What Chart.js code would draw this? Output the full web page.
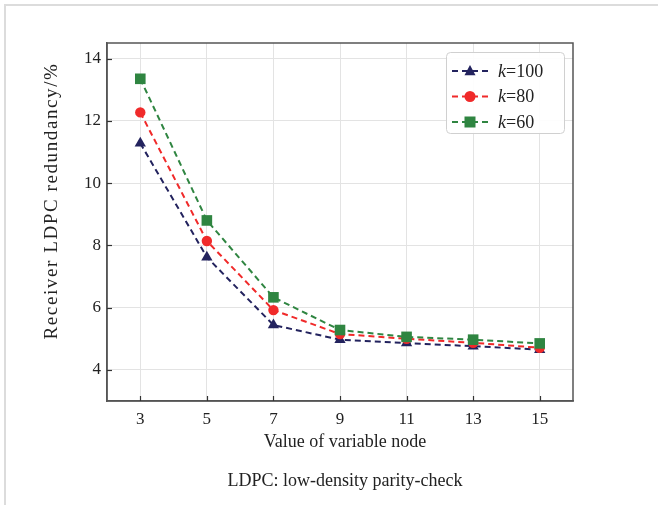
<!DOCTYPE html>
<html>
<head>
<meta charset="utf-8">
<script src="https://cdn.jsdelivr.net/npm/chart.js@4.4.0/dist/chart.umd.min.js"></script>
<style>
    html, body { margin: 0; padding: 0; background: #fff; }
    #wrap { width: 658px; height: 505px; position: relative; }
</style>
</head>
<body>
<div id="wrap"><canvas id="ldpcChart" width="658" height="505"></canvas></div>
<script>
// ===================================
// LDPC redundancy vs variable node value
// ===================================

const nodeValues = [3, 5, 7, 9, 11, 13, 15];
const yTickValues = [4, 6, 8, 10, 12, 14];

const k100 = [11.28, 7.62, 5.44, 4.97, 4.86, 4.76, 4.65];
const k80 = [12.27, 8.14, 5.92, 5.15, 5.00, 4.87, 4.71];
const k60 = [13.35, 8.80, 6.33, 5.28, 5.06, 4.97, 4.85];

const seriesLabels = ['100', '80', '60'];
const seriesColors = ['#23235e', '#f02a2a', '#2f8541'];
const seriesMarkers = ['triangle', 'circle', 'rect'];
const markerRadius = [6.5, 5.2, 7.5];

const SERIF = '"Liberation Serif", "DejaVu Serif", serif';

function toPoints(values) {
    return values.map((v, i) => ({ x: nodeValues[i], y: v }));
}

// Frame, inward ticks, axis titles, caption, legend box
const decorPlugin = {
    id: 'decor',
    beforeDraw(chart) {
        const ctx = chart.ctx;
        ctx.save();
        ctx.strokeStyle = '#dcdcdc';
        ctx.lineWidth = 2;
        ctx.beginPath();
        ctx.moveTo(5, 505);
        ctx.lineTo(5, 5);
        ctx.lineTo(658, 5);
        ctx.stroke();
        ctx.restore();
    },
    afterDraw(chart) {
        const ctx = chart.ctx;
        const area = chart.chartArea;
        const xs = chart.scales.x;
        const ys = chart.scales.y;
        ctx.save();

        // inward ticks
        ctx.strokeStyle = '#333';
        ctx.lineWidth = 1.2;
        nodeValues.forEach(v => {
            const px = Math.round(xs.getPixelForValue(v)) + 0.5;
            ctx.beginPath();
            ctx.moveTo(px, area.bottom);
            ctx.lineTo(px, area.bottom - 5);
            ctx.stroke();
        });
        yTickValues.forEach(v => {
            const py = Math.round(ys.getPixelForValue(v)) + 0.5;
            ctx.beginPath();
            ctx.moveTo(area.left, py);
            ctx.lineTo(area.left + 5, py);
            ctx.stroke();
        });

        // axis titles and caption
        ctx.fillStyle = '#222';
        ctx.font = '18px ' + SERIF;
        ctx.textAlign = 'center';
        ctx.textBaseline = 'middle';
        ctx.fillText('Value of variable node', 345, 442);
        ctx.fillText('LDPC: low-density parity-check', 345, 481);
        ctx.save();
        ctx.translate(52, 201);
        ctx.rotate(-Math.PI / 2);
        ctx.font = '19px ' + SERIF;
        ctx.letterSpacing = '1.6px';
        ctx.fillText('Receiver LDPC redundancy/%', 0, 0);
        ctx.restore();

        // legend box
        const bx = 446, by = 52, bw = 118, bh = 81;
        ctx.fillStyle = 'rgba(255,255,255,0.9)';
        ctx.strokeStyle = '#d0d0d0';
        ctx.lineWidth = 1;
        ctx.beginPath();
        ctx.roundRect(bx + 0.5, by + 0.5, bw, bh, 4);
        ctx.fill();
        ctx.stroke();

        seriesLabels.forEach((lab, i) => {
            const rowY = 71 + i * 25.5;
            const color = seriesColors[i];
            ctx.strokeStyle = color;
            ctx.lineWidth = 1.8;
            ctx.setLineDash([6, 4]);
            ctx.beginPath();
            ctx.moveTo(452, rowY);
            ctx.lineTo(489, rowY);
            ctx.stroke();
            ctx.setLineDash([]);
            ctx.fillStyle = color;
            drawMarker(ctx, seriesMarkers[i], 470, rowY, 5.5);

            ctx.fillStyle = '#222';
            ctx.textAlign = 'left';
            ctx.font = 'italic 18px ' + SERIF;
            ctx.fillText('k', 498, rowY + 1);
            const kw = ctx.measureText('k').width;
            ctx.font = '18px ' + SERIF;
            ctx.fillText('=' + lab, 498 + kw, rowY + 1);
        });
        ctx.restore();
    }
};

function drawMarker(ctx, type, x, y, r) {
    ctx.beginPath();
    if (type === 'triangle') {
        ctx.moveTo(x, y - r * 1.1);
        ctx.lineTo(x + r, y + r * 0.75);
        ctx.lineTo(x - r, y + r * 0.75);
        ctx.closePath();
    } else if (type === 'circle') {
        ctx.arc(x, y, r, 0, Math.PI * 2);
    } else {
        ctx.rect(x - r, y - r, r * 2, r * 2);
    }
    ctx.fill();
}

const datasets = [k100, k80, k60].map((vals, i) => ({
    label: 'k=' + seriesLabels[i],
    data: toPoints(vals),
    borderColor: seriesColors[i],
    backgroundColor: seriesColors[i],
    borderWidth: 2,
    borderDash: [6, 4],
    pointStyle: seriesMarkers[i],
    pointRadius: markerRadius[i],
    pointBorderWidth: 0,
    tension: 0
}));

new Chart(document.getElementById('ldpcChart'), {
    type: 'line',
    data: { datasets: datasets.reverse() },
    options: {
        responsive: false,
        animation: false,
        layout: { padding: { left: 0, top: 43, right: 85, bottom: 0 } },
        plugins: {
            legend: { display: false },
            tooltip: { enabled: false }
        },
        scales: {
            x: {
                type: 'linear',
                min: 2,
                max: 16,
                afterBuildTicks: scale => { scale.ticks = nodeValues.map(v => ({ value: v })); },
                afterFit: scale => { scale.height = 104; },
                grid: { color: '#e3e3e3', lineWidth: 1, drawTicks: false },
                border: { color: '#555', width: 1.5 },
                ticks: {
                    padding: 8,
                    color: '#222',
                    font: { family: SERIF, size: 17 },
                    maxRotation: 0
                }
            },
            y: {
                min: 3,
                max: 14.5,
                afterBuildTicks: scale => { scale.ticks = yTickValues.map(v => ({ value: v })); },
                afterFit: scale => { scale.width = 107; },
                grid: { color: '#e3e3e3', lineWidth: 1, drawTicks: false },
                border: { color: '#555', width: 1.5 },
                ticks: {
                    padding: 6,
                    color: '#222',
                    font: { family: SERIF, size: 17 }
                }
            }
        }
    },
    plugins: [decorPlugin, {
        id: 'boxBorder',
        afterDatasetsDraw(chart) {
            const a = chart.chartArea;
            const ctx = chart.ctx;
            ctx.save();
            ctx.strokeStyle = '#555';
            ctx.lineWidth = 1.5;
            ctx.strokeRect(a.left, a.top, a.right - a.left, a.bottom - a.top);
            ctx.restore();
        }
    }]
});
</script>
</body>
</html>
